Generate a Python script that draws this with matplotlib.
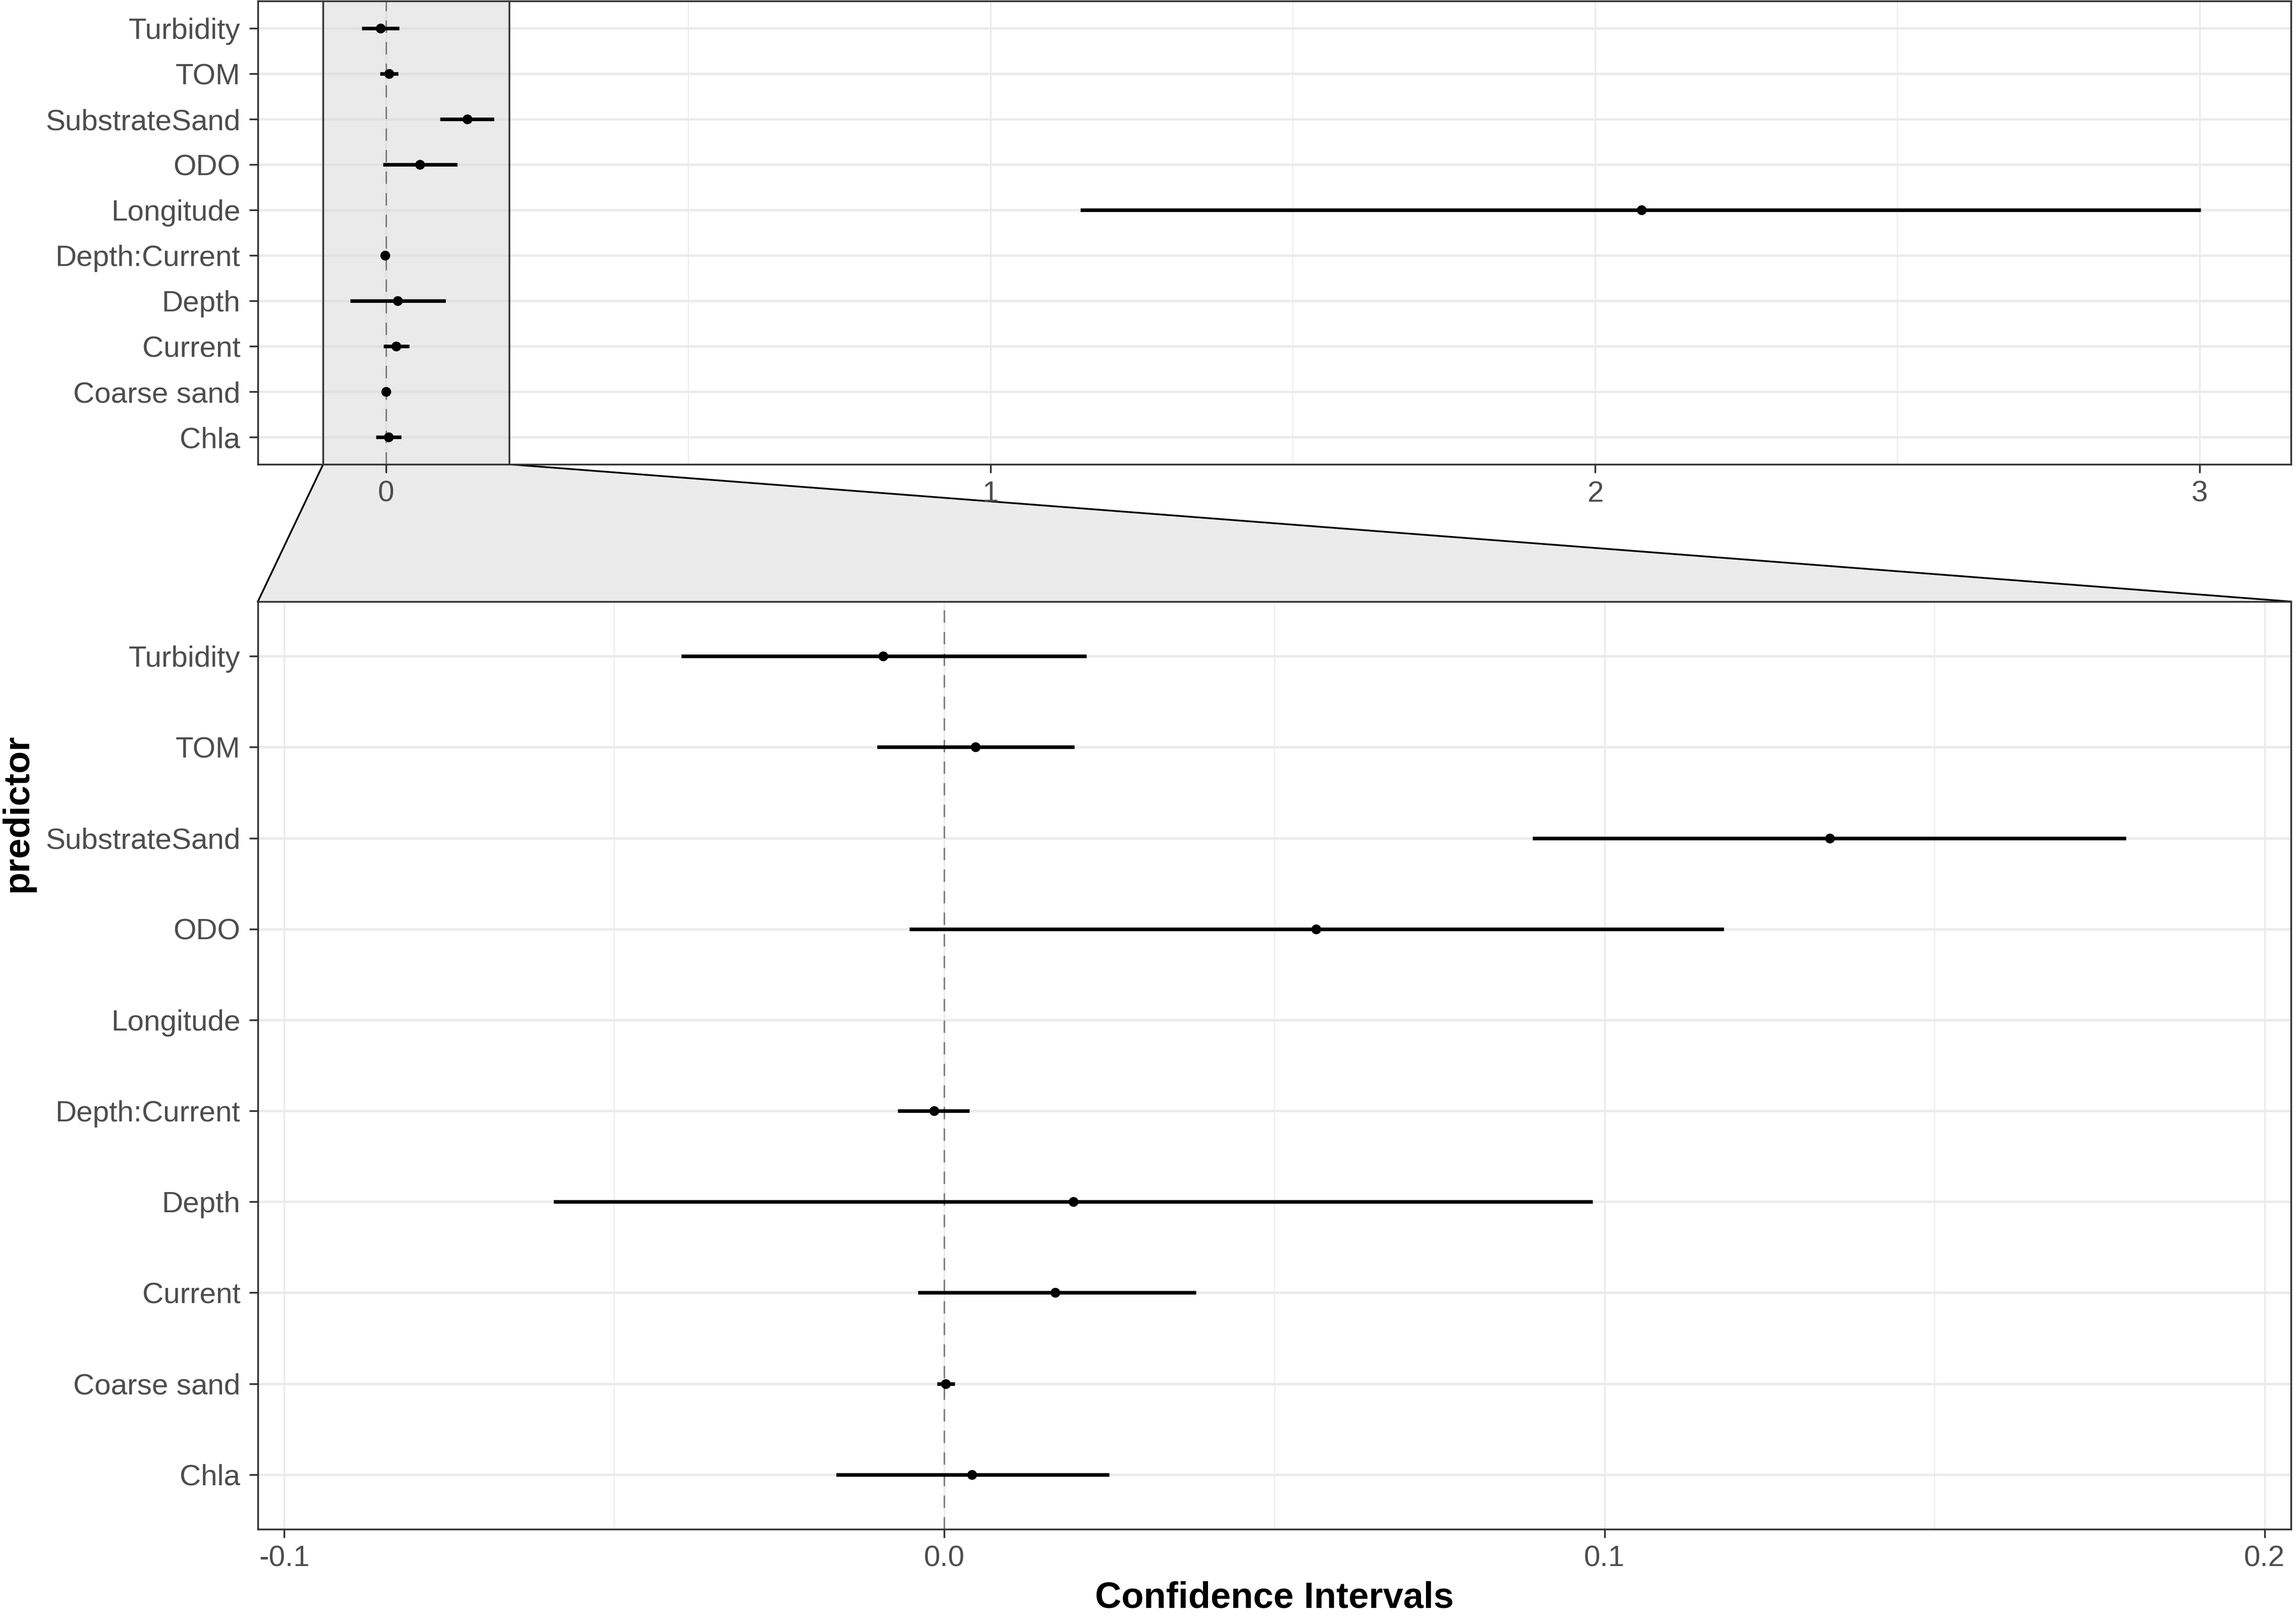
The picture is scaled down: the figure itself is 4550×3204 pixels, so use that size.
import matplotlib
matplotlib.use("Agg")
import matplotlib.pyplot as plt
from matplotlib.patches import Polygon, Rectangle
from matplotlib.lines import Line2D

# ---------------- data ----------------
predictors = ["Chla", "Coarse sand", "Current", "Depth", "Depth:Current",
              "Longitude", "ODO", "SubstrateSand", "TOM", "Turbidity"]
estimate = [0.0042, 0.0002, 0.0168, 0.0195, -0.0016,
            2.077, 0.0563, 0.1341, 0.0047, -0.0093]
ci_low = [-0.0164, -0.0011, -0.0040, -0.0592, -0.0071,
          1.1485, -0.0053, 0.0891, -0.0102, -0.0399]
ci_high = [0.0250, 0.0016, 0.0381, 0.0982, 0.0038,
           3.002, 0.1181, 0.1790, 0.0197, 0.0215]

top_xticks = [0, 1, 2, 3]
top_xtick_labels = ["0", "1", "2", "3"]
top_minor = [0.5, 1.5, 2.5]
bot_xticks = [-0.1, 0.0, 0.1, 0.2]
bot_xtick_labels = ["-0.1", "0.0", "0.1", "0.2"]
bot_minor = [-0.05, 0.05, 0.15]

top_xlim = (-0.212, 3.151)
zoom_xlim = (-0.104, 0.204)

# ---------------- style ----------------
W, H, DPI = 4550, 3204, 100
plt.rcParams['font.family'] = ['Liberation Sans', 'DejaVu Sans']
TICK_FS = 42
TITLE_FS = 52
BORDER = '#333333'
GRID = '#EBEBEB'
TXT = '#4D4D4D'

fig = plt.figure(figsize=(W / DPI, H / DPI), dpi=DPI)
fig.patch.set_facecolor('white')

def px_axes(l, t, r, b):
    return [l / W, 1 - b / H, (r - l) / W, (b - t) / H]

ax_top = fig.add_axes(px_axes(511, 2, 4540, 920))
ax_bot = fig.add_axes(px_axes(511, 1192, 4540, 3030))

ypos = list(range(len(predictors)))

def style_axes(ax, xlim, xticks, xlabels, minor):
    ax.set_xlim(*xlim)
    ax.set_ylim(-0.6, len(predictors) - 0.4)
    ax.set_xticks(xticks)
    ax.set_xticklabels(xlabels)
    ax.set_xticks(minor, minor=True)
    ax.set_yticks(ypos)
    ax.set_yticklabels(predictors)
    ax.set_axisbelow(True)
    ax.grid(True, which='major', axis='y', color=GRID, lw=3.4)
    ax.grid(True, which='major', axis='x', color=GRID, lw=2.4)
    ax.grid(True, which='minor', axis='x', color=GRID, lw=1.4)
    ax.tick_params(which='major', length=12, width=2.5, color=BORDER,
                   labelsize=TICK_FS, labelcolor=TXT, pad=11)
    ax.tick_params(axis='y', pad=13)
    ax.tick_params(which='minor', length=0)
    for s in ax.spines.values():
        s.set_color(BORDER)
        s.set_linewidth(2.5)
    ax.axvline(0, color='#7F7F7F', lw=2.2, ls=(0, (8, 6)), zorder=2)
    ax.hlines(ypos, ci_low, ci_high, color='black', lw=5.2, zorder=3)
    ax.plot(estimate, ypos, 'o', color='black', ms=13, zorder=4)

style_axes(ax_top, top_xlim, top_xticks, top_xtick_labels, top_minor)
style_axes(ax_bot, zoom_xlim, bot_xticks, bot_xtick_labels, bot_minor)

# zoom region indicator in the overview panel
ylo, yhi = ax_top.get_ylim()
ax_top.add_patch(Rectangle((zoom_xlim[0], ylo), zoom_xlim[1] - zoom_xlim[0], yhi - ylo,
                           facecolor=(0.84, 0.84, 0.84, 0.5), edgecolor='none', zorder=1.5))
ax_top.axvline(zoom_xlim[0], color=BORDER, lw=2.5, zorder=1.6)
ax_top.axvline(zoom_xlim[1], color=BORDER, lw=2.5, zorder=1.6)

# connector trapezoid between panels
inv = fig.transFigure.inverted()
tl = inv.transform(ax_top.transData.transform((zoom_xlim[0], ylo)))
tr = inv.transform(ax_top.transData.transform((zoom_xlim[1], ylo)))
bl = inv.transform(ax_bot.transAxes.transform((0, 1)))
br = inv.transform(ax_bot.transAxes.transform((1, 1)))
fig.patches.append(Polygon([tl, tr, br, bl], closed=True, transform=fig.transFigure,
                           facecolor='#EBEBEB', edgecolor='none', zorder=-1))
fig.lines.append(Line2D([tl[0], bl[0]], [tl[1], bl[1]], transform=fig.transFigure,
                        color='black', lw=2.5, zorder=-0.5))
fig.lines.append(Line2D([tr[0], br[0]], [tr[1], br[1]], transform=fig.transFigure,
                        color='black', lw=2.5, zorder=-0.5))

# axis titles
fig.text(2525 / W, 1 - 3166 / H, "Confidence Intervals", ha='center', va='center',
         fontsize=TITLE_FS, fontweight='bold', color='black')
fig.text(35 / W, 1 - 1611 / H, "predictor", ha='center', va='center', rotation=90,
         fontsize=TITLE_FS, fontweight='bold', color='black')

fig.savefig("out.png", dpi=DPI, facecolor='white')
